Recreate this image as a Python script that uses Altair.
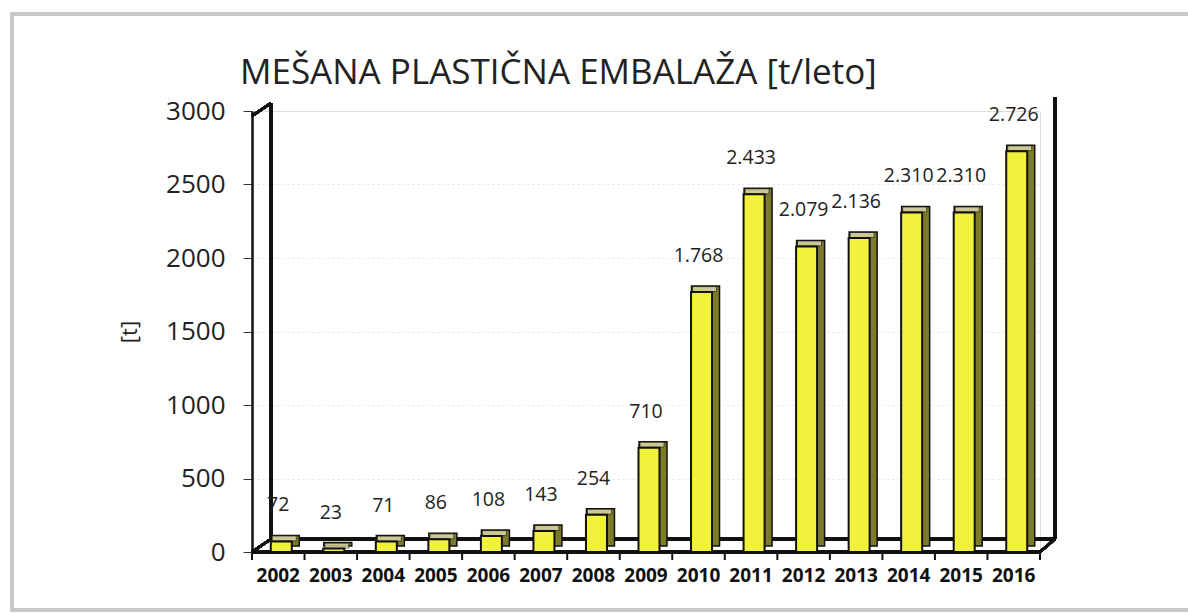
import altair as alt
import pandas as pd

years = ["2002", "2003", "2004", "2005", "2006", "2007", "2008", "2009",
         "2010", "2011", "2012", "2013", "2014", "2015", "2016"]
values = [72, 23, 71, 86, 108, 143, 254, 710, 1768, 2433, 2079, 2136, 2310, 2310, 2726]
labels = ["72", "23", "71", "86", "108", "143", "254", "710",
          "1.768", "2.433", "2.079", "2.136", "2.310", "2.310", "2.726"]
y_ticks = [0, 500, 1000, 1500, 2000, 2500, 3000]
title_text = ["MEŠANA PLASTIČNA EMBALAŽA [t/leto]"]

df = pd.DataFrame({"leto": years, "t": values, "label": labels})
tdf = pd.DataFrame({"title": title_text})

W, H = 788, 441
FONT = "Open Sans"

x_enc = alt.X("leto:N", sort=years, scale=alt.Scale(paddingInner=0, paddingOuter=0),
              axis=alt.Axis(title=None, ticks=False, domain=False, labelAngle=0,
                            labelFontSize=19, labelFontWeight="bold", labelColor="#111",
                            labelFont=FONT, labelPadding=14, grid=False))
y_enc = alt.Y("t:Q", scale=alt.Scale(domain=[0, 3000], nice=False),
              axis=alt.Axis(values=y_ticks, format="d", title="[t]", titleFontSize=22,
                            titleFontWeight="normal", titleColor="#222", titleFont=FONT,
                            titlePadding=24, labelFontSize=26, labelColor="#222",
                            labelFontWeight=500,
                            labelFont=FONT, labelPadding=18, tickSize=9, tickColor="#333",
                            domain=True, domainColor="#111", domainWidth=2.5,
                            grid=True, gridColor="#d8d8d8", gridDash=[2, 3],
                            gridOpacity=0.7))

base = alt.Chart(df)

# back/side of 3D bar
side = base.mark_bar(size=28, xOffset=7, yOffset=-6, y2Offset=-6, color="#7d7b2a",
                     stroke="#111", strokeWidth=1.5).encode(x=x_enc, y=y_enc, y2=alt.datum(0))
# top face
top = base.mark_tick(size=24, thickness=5, xOffset=6, yOffset=-3, color="#ecebc0",
                     stroke="#111", strokeWidth=0.8).encode(x="leto:N", y="t:Q")
# front face
front = base.mark_bar(size=21, xOffset=3, color="#f2f23c", stroke="#111",
                      strokeWidth=2).encode(x="leto:N", y="t:Q", y2=alt.datum(0))
text = base.mark_text(dy=-36, fontSize=19.5, font=FONT, color="#222").encode(
    x="leto:N", y="t:Q", text="label:N")

# 3D frame decorations (floor, back wall, right wall)
line_style = dict(color="#111", strokeWidth=2.5)
deco = [
    alt.Chart(df).mark_rule(**line_style).encode(x=alt.value(0), x2=alt.value(W), y=alt.value(H)),
    alt.Chart(df).mark_rule(**line_style).encode(x=alt.value(19), x2=alt.value(W + 15), y=alt.value(H - 13)),
    alt.Chart(df).mark_rule(**line_style).encode(x=alt.value(0), x2=alt.value(19), y=alt.value(H), y2=alt.value(H - 13)),
    alt.Chart(df).mark_rule(**line_style).encode(x=alt.value(W), x2=alt.value(W + 15), y=alt.value(H), y2=alt.value(H - 13)),
    alt.Chart(df).mark_rule(**line_style).encode(x=alt.value(19), y=alt.value(-8), y2=alt.value(H - 13)),
    alt.Chart(df).mark_rule(**line_style).encode(x=alt.value(0), x2=alt.value(19), y=alt.value(5), y2=alt.value(-8)),
    alt.Chart(df).mark_rule(**line_style).encode(x=alt.value(W + 15), y=alt.value(-14), y2=alt.value(H - 13)),
]
# x ticks at band boundaries
xticks = base.mark_rule(color="#111", strokeWidth=2, xOffset=-W / 30).encode(
    x="leto:N", y=alt.value(H), y2=alt.value(H + 8))
xtick_last = alt.Chart(df).mark_rule(color="#111", strokeWidth=2).encode(
    x=alt.value(W), y=alt.value(H), y2=alt.value(H + 8))

# outer scanned frame
frame = alt.Chart(df).mark_rect(fill=None, stroke="#c8c8c8", strokeWidth=2.5).encode(
    x=alt.value(-240), x2=alt.value(940), y=alt.value(-97), y2=alt.value(499))

title = alt.Chart(tdf).mark_text(align="left", baseline="middle", fontSize=35, font=FONT,
                                 color="#222").encode(
    x=alt.value(-12), y=alt.value(-38), text="title:N")

chart = alt.layer(frame, *deco, side, top, front, text, xticks, xtick_last, title).properties(
    width=W, height=H,
    padding={"left": 252, "top": 111, "right": 148, "bottom": 62},
    autosize=alt.AutoSizeParams(type="none"),
).configure_view(stroke=None).configure(background="white")

chart.save("out.html", embed_options={"renderer": "svg", "actions": False})
